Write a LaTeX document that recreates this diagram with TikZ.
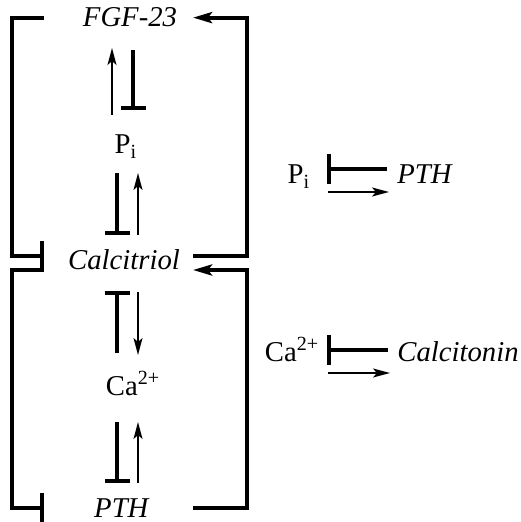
\documentclass[tikz,border=0pt]{standalone}
\usepackage{fontspec}
\setmainfont{Liberation Serif}
\usetikzlibrary{arrows.meta}
\begin{document}
\begin{tikzpicture}[x=0.5pt, y=-0.5pt,
  mol/.style={inner sep=0pt, anchor=base, font=\fontsize{14.35}{17}\selectfont},
  act/.style={line width=0.8pt, -{Stealth[length=8.5pt,width=4.5pt,inset=2pt]}},
  inhib/.style={line width=2pt, -{Bar[width=12.5pt]}},
  loopact/.style={line width=2pt, -{Stealth[length=9.5pt,width=5.5pt,inset=2pt]}},
  loopinhib/.style={line width=2pt, -{Bar[width=15pt]}}]
  \useasboundingbox (0,0) rectangle (520,522);
  % left column
  \node[mol] (fgf) at (130,27) {\textit{FGF-23}};
  \node[mol] (pi) at (126,154) {P\textsubscript{i}};
  \node[mol] (calcitriol) at (124,270) {\textit{Calcitriol}};
  \node[mol] (ca) at (133,395) {Ca\textsuperscript{2+}};
  \node[mol] (pth) at (122,517) {\textit{PTH}};
  % right side
  \node[mol] (piR) at (299,184) {P\textsubscript{i}};
  \node[mol] (pthR) at (425,184) {\textit{PTH}};
  \node[mol] (caR) at (292,361) {Ca\textsuperscript{2+}};
  \node[mol] (calcitonin) at (458,361) {\textit{Calcitonin}};
  % rails of the loops
  \coordinate (railL) at (12,0);
  \coordinate (stopL) at (44,0);
  \coordinate (stopR) at (193,0);
  \coordinate (railR) at (247,0);
  % loops
  \draw[loopinhib] (fgf.west -| stopL) -| ([yshift=2pt]calcitriol.west -| railL) -- ([yshift=2pt]calcitriol.west -| stopL);
  \draw[loopinhib] (calcitriol.base -| stopL) -| (pth.west -| railL) -- (pth.west -| stopL);
  \draw[loopact] ([yshift=2pt]calcitriol.east -| stopR) -| (fgf.east -| railR) -- (fgf.east -| stopR);
  \draw[loopact] (pth.east -| stopR) -| (calcitriol.base -| railR) -- (calcitriol.base -| stopR);
  % FGF-23 and Pi
  \draw[act] ([xshift=-7pt,yshift=19.5pt]pi.base) -- ([xshift=-9pt,yshift=-10.5pt]fgf.base);
  \draw[inhib] ([xshift=1.5pt,yshift=-11.5pt]fgf.base) -- ([xshift=3.5pt,yshift=22pt]pi.base);
  % Pi and calcitriol
  \draw[inhib] ([xshift=-4.5pt,yshift=-9.5pt]pi.base) -- ([xshift=-3.5pt,yshift=17.5pt]calcitriol.base);
  \draw[act] ([xshift=7pt,yshift=17.5pt]calcitriol.base) -- ([xshift=6pt,yshift=-9.5pt]pi.base);
  % calcitriol and Ca
  \draw[inhib] ([xshift=-8pt,yshift=21pt]ca.base) -- ([xshift=-3.5pt,yshift=-10.5pt]calcitriol.base);
  \draw[act] ([xshift=7pt,yshift=-11pt]calcitriol.base) -- ([xshift=2.5pt,yshift=20pt]ca.base);
  % Ca and PTH
  \draw[inhib] ([xshift=-8pt,yshift=-13.5pt]ca.base) -- ([xshift=-2.5pt,yshift=17pt]pth.base);
  \draw[act] ([xshift=8pt,yshift=17pt]pth.base) -- ([xshift=2.5pt,yshift=-13.5pt]ca.base);
  % right pairs
  \draw[loopinhib] ([xshift=-19pt,yshift=7.5pt]pthR.base) -- ([xshift=14pt,yshift=7.5pt]piR.base);
  \draw[act] ([xshift=14.5pt,yshift=-4pt]piR.base) -- ([xshift=-18pt,yshift=-4pt]pthR.base);
  \draw[loopinhib] ([xshift=-35pt,yshift=5.5pt]calcitonin.base) -- ([xshift=17.5pt,yshift=5.5pt]caR.base);
  \draw[act] ([xshift=18pt,yshift=-6pt]caR.base) -- ([xshift=-34pt,yshift=-6pt]calcitonin.base);
\end{tikzpicture}
\end{document}
